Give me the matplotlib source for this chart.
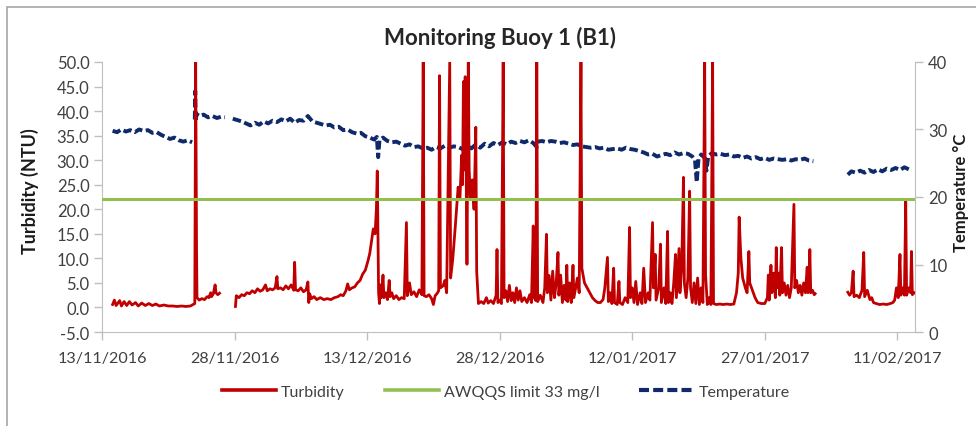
#Monitoring buoy 1 - turbidity and temperature
import numpy as np
import pandas as pd
import matplotlib
matplotlib.use("Agg")
from matplotlib import pyplot as plt
import matplotlib.dates as mdates
from matplotlib.lines import Line2D
from matplotlib.patches import Rectangle

start = pd.Timestamp("2016-11-13")
nan = np.nan

# turbidity (NTU), days after 13/11/2016
turb_day = [1.2, 1.4, 1.6, 2.0, 2.2, 2.5, 2.8, 3.1, 3.4, 3.8, 4.1, 4.5, 4.9, 5.3, 5.7, 6.1, 6.5, 7.0, 7.5, 8.0,
            8.5, 9.0, 9.5, 10.0, 10.5, 10.6, 10.7, 10.75, 11.0, 11.3, 11.6, 11.9, 12.1, 12.3, 12.4, 12.6, 12.8, 12.9, 13.1, 13.3,
            13.6,
            15.0, 15.1, 15.2, 15.5, 15.8, 16.1, 16.4, 16.7, 17.0, 17.3, 17.6, 17.9, 18.2, 18.5, 18.7, 19.0, 19.3, 19.6, 19.8,
            19.9, 20.2, 20.5, 20.8, 21.1, 21.4, 21.7, 21.8, 21.9, 22.2, 22.5, 22.8, 23.1, 23.3, 23.4, 23.5, 23.7, 24.0, 24.3,
            24.7, 25.1, 25.5, 25.9, 26.3, 26.7, 27.0, 27.3, 27.6, 27.8, 28.0, 28.3, 28.6, 28.9, 29.2, 29.5, 29.8, 30.1, 30.3,
            30.5, 30.7, 30.9, 31.05, 31.15, 31.3, 31.4, 31.5, 31.6, 31.8, 31.9, 32.1, 32.3, 32.5, 32.6, 32.8, 33.0, 33.3, 33.6,
            33.9, 34.2, 34.45, 34.55, 34.8, 35.0, 35.3, 35.6, 35.9, 36.2, 36.35, 36.45, 36.7, 37.0, 37.3, 37.5, 37.7, 37.9, 38.1,
            38.2, 38.3, 38.6, 38.8, 39.0, 39.35, 39.45, 39.7, 40.0, 40.3, 40.5, 40.7, 40.8, 40.9, 41.0, 41.1, 41.2, 41.3, 41.45,
            41.55, 41.7, 41.9, 42.1, 42.3, 42.4, 42.6, 42.9, 43.2, 43.5, 43.7, 44.0, 44.3, 44.6, 44.7, 44.8, 45.0, 45.2, 45.4,
            45.5, 45.7, 45.9, 46.1, 46.3, 46.5, 46.7, 46.9, 47.1, 47.3, 47.5, 47.8, 48.1, 48.4, 48.6, 48.8, 48.9, 49.1, 49.2,
            49.3, 49.6, 49.9, 50.1, 50.3, 50.4, 50.6, 50.8, 51.0, 51.2, 51.4, 51.6, 51.7, 51.9, 52.1, 52.3, 52.5, 52.6, 52.7,
            52.9, 53.1, 53.3, 53.4, 53.6, 53.8, 54.0, 54.2, 54.3, 54.6, 54.9, 55.2, 55.5, 55.8, 56.1, 56.4, 56.7, 56.9, 57.2,
            57.3, 57.5, 57.7, 57.9, 58.0, 58.3, 58.5, 58.6, 58.9, 59.2, 59.5, 59.7, 59.8, 60.0, 60.2, 60.4, 60.6, 60.9, 61.1,
            61.3, 61.5, 61.8, 62.0, 62.3, 62.4, 62.6, 62.7, 63.0, 63.2, 63.3, 63.6, 63.8, 64.0, 64.1, 64.3, 64.5, 64.7, 64.9,
            65.0, 65.3, 65.4, 65.6, 65.8, 65.9, 66.1, 66.3, 66.5, 66.6, 66.8, 67.0, 67.2, 67.4, 67.6, 67.8, 68.0, 68.2, 68.3,
            68.5, 68.7, 68.9, 69.1, 69.2, 69.5, 69.9, 70.3, 70.7, 71.1, 71.5, 71.8, 72.0, 72.1, 72.3, 72.5, 72.8, 73.0, 73.2,
            73.3, 73.6, 73.9, 74.2, 74.6, 75.0, 75.3, 75.4, 75.5, 75.7, 75.8, 76.0, 76.2, 76.3, 76.4, 76.6, 76.7, 76.9, 77.0,
            77.2, 77.4, 77.6, 77.8, 78.0, 78.3, 78.4, 78.6, 78.8, 79.0, 79.2, 79.4, 79.6, 79.8, 79.9, 80.0, 80.1, 80.2, 80.4,
            80.6, 80.7, 81.0,
            84.4, 84.6, 84.8, 85.0, 85.1, 85.4, 85.7, 86.0, 86.2, 86.3, 86.6, 86.9, 87.1, 87.3, 87.6, 88.0, 88.4, 88.8, 89.2,
            89.5, 89.7, 89.9, 90.1, 90.3, 90.4, 90.6, 90.8, 90.95, 91.05, 91.3, 91.5, 91.6, 91.7, 91.9]
turb_val = [0.6, 1.5, 0.4, 1.4, 0.3, 1.2, 0.4, 1.2, 0.5, 1.0, 0.3, 0.9, 0.4, 0.8, 0.4, 0.7, 0.3, 0.5, 0.3, 0.3,
            0.2, 0.3, 0.2, 0.3, 0.8, 50, 12.0, 2.0, 1.5, 1.8, 1.6, 2.2, 2.0, 3.0, 2.2, 2.8, 4.6, 3.0, 2.6, 2.9,
            nan,
            nan, 0.2, 2.4, 2.0, 2.6, 2.4, 3.0, 2.8, 3.4, 3.0, 3.8, 3.3, 3.6, 4.6, 3.4, 3.8, 3.6, 4.0, 6.3,
            3.8, 4.0, 3.6, 4.4, 3.8, 4.6, 3.5, 9.2, 3.6, 3.4, 4.0, 3.2, 3.6, 5.2, 1.0, 2.8, 1.8, 2.2, 1.6,
            2.0, 1.6, 1.8, 1.6, 2.0, 2.2, 2.6, 2.4, 3.4, 4.8, 3.6, 4.0, 4.2, 5.0, 5.5, 6.8, 7.6, 9.5, 11.0,
            13.5, 16.0, 15.0, 20.0, 27.8, 3.0, 0.8, 4.6, 2.0, 6.6, 2.0, 3.0, 1.6, 5.5, 2.2, 3.0, 1.8, 2.4, 1.6,
            2.0, 1.8, 17.3, 2.4, 5.0, 2.6, 3.2, 2.2, 3.6, 2.6, 50, 2.4, 2.2, 2.6, 1.8, 0.6, 2.4, 2.8, 3.4,
            47.2, 4.0, 4.4, 5.5, 3.0, 50, 6.0, 10.0, 17.0, 24.5, 22.0, 31.0, 25.0, 46.0, 28.0, 47.0, 30.0, 8.8, 50,
            28.0, 22.0, 26.0, 20.0, 36.7, 7.4, 0.8, 1.2, 0.8, 2.0, 0.9, 1.4, 0.8, 2.5, 11.8, 1.0, 1.5, 0.8, 50,
            2.0, 3.4, 1.2, 4.5, 1.4, 3.0, 1.0, 4.0, 1.5, 3.4, 1.2, 2.0, 1.0, 2.6, 1.0, 16.6, 2.0, 1.4, 50,
            1.2, 2.5, 1.0, 4.0, 14.9, 3.0, 6.5, 1.5, 7.4, 2.0, 5.0, 11.2, 2.5, 6.6, 1.0, 4.5, 1.5, 8.6, 1.2,
            5.0, 1.0, 8.6, 2.0, 4.0, 6.0, 3.0, 50, 8.0, 5.0, 4.0, 3.0, 2.0, 1.4, 1.0, 1.0, 1.6, 4.0, 10.2,
            1.2, 3.0, 0.8, 8.0, 1.0, 0.6, 5.3, 1.0, 0.6, 2.0, 1.0, 16.3, 2.0, 4.0, 1.0, 5.3, 0.6, 3.0, 0.8,
            8.0, 1.0, 3.0, 1.5, 17.3, 4.0, 10.8, 1.5, 4.0, 12.9, 1.0, 4.0, 0.8, 15.5, 1.0, 3.0, 0.8, 5.0, 10.8,
            2.0, 12.0, 3.0, 8.0, 26.5, 5.0, 2.0, 6.0, 23.7, 4.0, 1.0, 5.0, 0.8, 6.0, 0.6, 4.0, 1.0, 50, 6.7,
            0.6, 2.0, 0.6, 50, 0.8, 0.6, 0.7, 0.6, 0.7, 0.6, 0.7, 3.0, 7.0, 18.4, 10.0, 6.0, 4.0, 3.0, 11.4,
            5.0, 3.5, 2.0, 1.0, 0.8, 0.8, 2.0, 6.6, 1.5, 8.6, 3.0, 7.0, 2.0, 12.2, 4.0, 7.0, 2.5, 12.2, 3.0,
            5.0, 2.5, 4.5, 2.0, 4.0, 21.0, 4.0, 5.5, 3.0, 4.5, 2.5, 5.0, 3.0, 8.2, 3.0, 4.2, 11.8, 3.0, 3.5,
            2.6, 2.8, nan,
            3.1, 2.5, 3.0, 7.4, 2.2, 2.5, 2.0, 3.5, 11.2, 2.2, 3.5, 1.6, 2.0, 1.0, 0.8, 0.6, 0.7, 0.6, 0.8,
            1.0, 1.5, 4.0, 2.0, 10.8, 2.5, 4.0, 2.5, 21.6, 2.5, 4.0, 3.0, 11.4, 2.6, 3.0]

# temperature (deg C), days after 13/11/2016
temp_day = [1.2, 1.7, 2.2, 2.7, 3.2, 3.7, 4.2, 4.7, 5.2, 5.7, 6.2, 6.7, 7.2, 7.7, 8.2, 8.7, 9.2, 9.7, 10.2, 10.35,
            10.5, 10.55, 10.6, 10.7, 11.0, 11.5, 12.0, 12.5, 13.0, 13.5, 13.9, 14.3,
            14.8, 15.3, 15.8, 16.3, 16.8, 17.3, 17.8, 18.3, 18.8, 19.3, 19.8, 20.3, 20.8, 21.3, 21.8, 22.3, 22.8, 23.3,
            23.8, 24.3, 24.8, 25.3, 25.8, 26.3, 26.8, 27.3, 27.8, 28.3, 28.8, 29.3, 29.8, 30.3, 30.8, 31.1, 31.25, 31.4,
            31.8, 32.3, 32.8, 33.3, 33.8, 34.3, 34.8, 35.3, 35.8, 36.3, 36.8, 37.3, 37.8, 38.3, 38.8, 39.3, 39.8, 40.3,
            40.8, 41.3, 41.8, 42.3, 42.8, 43.3, 43.8, 44.3, 44.8, 45.3, 45.8, 46.3, 46.8, 47.3, 47.8, 48.3, 48.8, 49.2,
            49.3, 49.8, 50.3, 50.8, 51.3, 51.8, 52.3, 52.8, 53.3, 53.8, 54.3, 54.8, 55.3, 55.8, 56.3, 56.8, 57.3, 57.8,
            58.3, 58.8, 59.3, 59.8, 60.3, 60.8, 61.3, 61.8, 62.3, 62.8, 63.3, 63.8, 64.3, 64.8, 65.3, 65.8, 66.3, 66.8,
            67.1, 67.3, 67.5, 67.8, 68.2, 68.4, 68.6, 69.0, 69.5, 70.0, 70.5, 71.0, 71.5, 72.0, 72.5, 73.0, 73.5, 74.0,
            74.5, 75.0, 75.5, 76.0, 76.5, 77.0, 77.5, 78.0, 78.5, 79.0, 79.5, 80.0, 80.5, 82.0,
            84.4, 84.8, 85.3, 85.8, 86.3, 86.8, 87.3, 87.8, 88.3, 88.8, 89.3, 89.8, 90.3, 90.8, 91.3, 91.6]
temp_val = [29.8, 29.6, 30.0, 29.7, 29.9, 29.6, 30.0, 29.8, 29.9, 29.5, 29.6, 29.2, 28.9, 28.6, 28.8, 28.4, 28.2, 28.4, 28.1, nan,
            31.5, 35.7, 31.2, 32.3, 32.0, 32.2, 31.8, 32.0, 31.7, 31.9, 31.8, nan,
            31.6, 31.4, 31.2, 30.9, 30.6, 31.0, 30.7, 31.2, 30.9, 31.3, 31.1, 31.5, 31.2, 31.6, 31.0, 31.4, 31.3, 32.0,
            31.2, 31.0, 30.8, 30.6, 30.7, 30.3, 30.4, 29.9, 30.0, 29.6, 29.4, 29.5, 29.0, 28.8, 28.5, 28.9, 25.9, 28.4,
            28.8, 28.3, 28.1, 28.2, 27.9, 27.6, 27.8, 27.4, 27.5, 27.2, 27.3, 27.0, 27.4, 27.2, 27.6, 27.3, 27.5, 27.4,
            27.1, 27.6, 27.2, 27.8, 27.3, 27.9, 27.5, 28.0, 27.7, 28.1, 27.8, 28.2, 28.0, 28.3, 28.1, 28.4, 28.0, 27.4,
            28.2, 28.3, 28.1, 28.3, 28.2, 28.0, 28.1, 27.9, 27.7, 27.8, 27.5, 27.4, 27.3, 27.4, 27.2, 27.3, 27.0, 27.1,
            27.2, 27.0, 27.3, 27.1, 27.0, 26.8, 26.6, 26.3, 26.4, 26.0, 26.2, 26.4, 26.2, 26.6, 26.3, 26.5, 26.4, 26.0,
            25.5, 22.2, 25.6, 26.3, 25.8, 23.9, 26.0, 26.5, 26.3, 26.4, 26.2, 26.3, 26.0, 26.1, 25.8, 26.0, 25.7, 25.9,
            25.6, 25.8, 25.5, 25.7, 25.6, 25.5, 25.6, 25.4, 25.6, 25.5, 25.7, 25.4, 25.3, nan,
            23.3, 23.8, 23.6, 23.9, 23.6, 24.0, 23.7, 24.1, 23.8, 24.2, 24.0, 24.3, 24.0, 24.4, 24.1, 24.0]

limit_val = 22.0   # AWQQS limit plotted on the turbidity axis
x_ticks = pd.date_range("2016-11-13", "2017-02-11", freq="15D")

turb_t = start + pd.to_timedelta(turb_day, unit="D")
temp_t = start + pd.to_timedelta(temp_day, unit="D")

plt.rcParams['font.family'] = ['Lato', 'DejaVu Sans']

fig = plt.figure(figsize=(9.76, 4.27), dpi=100)
ax = fig.add_axes([0.1045, 0.2201, 0.833, 0.6324])
ax2 = ax.twinx()

red = '#C00000'
green = '#92C050'
navy = '#0F2A6B'
grey = '#BFBFBF'

ax.plot(turb_t, turb_val, color=red, lw=2.0, zorder=3, clip_on=True)
ax.axhline(limit_val, color=green, lw=2.2, zorder=4)
ax2.plot(temp_t, temp_val, color=navy, lw=2.8, dashes=(2.2, 0.9), zorder=2)

ax.set_zorder(ax2.get_zorder() + 1)
ax.patch.set_visible(False)

ax.set_xlim(pd.Timestamp("2016-11-13"), pd.Timestamp("2017-02-13"))
ax.set_ylim(-5, 50)
ax2.set_ylim(0, 40)
ax.set_yticks(np.arange(-5, 50.1, 5))
ax.set_yticklabels(["%.1f" % v for v in np.arange(-5, 50.1, 5)])
ax2.set_yticks([0, 10, 20, 30, 40])
ax.set_xticks(x_ticks)
ax.xaxis.set_major_formatter(mdates.DateFormatter("%d/%m/%Y"))

for a in (ax, ax2):
    for s in a.spines.values():
        s.set_color(grey)
    a.spines['top'].set_visible(False)
    a.tick_params(colors=grey, labelcolor='#404040', labelsize=12, length=6, width=1)
ax.spines['right'].set_visible(False)
ax2.spines['left'].set_visible(False)
ax2.spines['bottom'].set_visible(False)
ax.tick_params(axis='y', pad=3)
ax.tick_params(axis='x', pad=8, labelsize=11.6)

fig.text(0.512, 0.911, "Monitoring Buoy 1 (B1)", ha='center', va='center',
         fontsize=16, fontweight='bold', color='#262626')
fig.text(0.031, 0.553, "Turbidity (NTU)", rotation=90, ha='center', va='center',
         fontsize=13, fontweight='bold', color='#1a1a1a')
fig.text(0.985, 0.548, "Temperature °C", rotation=90, ha='center', va='center',
         fontsize=12, fontweight='bold', color='#1a1a1a')

handles = [Line2D([], [], color=red, lw=2.6),
           Line2D([], [], color=green, lw=2.6),
           Line2D([], [], color=navy, lw=3.0, dashes=(2.4, 1.0))]
fig.legend(handles, ["Turbidity", "AWQQS limit 33 mg/l", "Temperature"],
           loc='center', bbox_to_anchor=(0.518, 0.08), ncol=3, frameon=False,
           prop={'family': ['Lato', 'DejaVu Sans'], 'size': 11.5},
           handlelength=3.4, handletextpad=0.3, columnspacing=2.5, labelcolor='#404040')

fig.patches.append(Rectangle((7 / 976, -0.1), 1.2, 1.1 - 8 / 427,
                             transform=fig.transFigure, fill=False,
                             edgecolor='#A6A6A6', lw=1.2))

fig.savefig("out.png", dpi=100)
